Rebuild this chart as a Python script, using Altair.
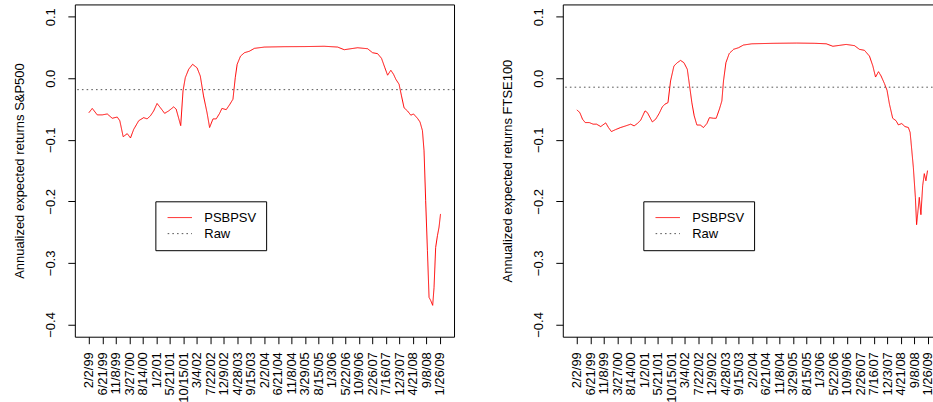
import altair as alt
import pandas as pd

# ---- data -------------------------------------------------------------
tick_labels = ["2/2/99", "6/21/99", "11/8/99", "3/27/00", "8/14/00", "1/2/01",
               "5/21/01", "10/15/01", "3/4/02", "7/22/02", "12/9/02", "4/28/03",
               "9/15/03", "2/2/04", "6/21/04", "11/8/04", "3/29/05", "8/15/05",
               "1/3/06", "5/22/06", "10/9/06", "2/26/07", "7/16/07", "12/3/07",
               "4/21/08", "9/8/08", "1/26/09"]
tick_pos = list(range(0, 2700, 100))

y_ticks = [-0.4, -0.3, -0.2, -0.1, 0.0, 0.1]

series_names = ["PSBPSV", "Raw"]
series_colors = ["#FF0000", "#555555"]
series_dashes = [[1, 0], [1.6, 3.1]]

# S&P500 panel (trading-day index, annualized expected return)
sp_idx = [0, 25, 62, 99, 136, 173, 210, 229, 254, 284,
          308, 332, 369, 406, 431, 456, 480, 505, 530, 561,
          591, 628, 646, 665, 680, 697, 714, 739, 768, 801,
          825, 849, 875, 894, 919, 943, 968, 985, 1017, 1042,
          1067, 1084, 1098, 1123, 1152, 1189, 1226, 1300, 1448, 1600,
          1743, 1842, 1891, 1940, 1990, 2064, 2101, 2138, 2167, 2192,
          2212, 2236, 2256, 2273, 2297, 2315, 2334, 2359, 2384, 2404,
          2433, 2452, 2470, 2482, 2494, 2507, 2519, 2531, 2546, 2556,
          2568, 2581, 2593, 2604]
sp_val = [-0.056, -0.049, -0.0595, -0.0595, -0.058, -0.065, -0.063, -0.069, -0.095, -0.090,
          -0.097, -0.083, -0.069, -0.064, -0.066, -0.061, -0.053, -0.041, -0.048, -0.057,
          -0.053, -0.0465, -0.050, -0.065, -0.077, -0.0206, 0.001, 0.0146, 0.0227, 0.017,
          0.0037, -0.0287, -0.056, -0.080, -0.066, -0.066, -0.057, -0.049, -0.051, -0.043,
          -0.034, 0.001, 0.0227, 0.036, 0.0415, 0.044, 0.0486, 0.0507, 0.0513, 0.0515,
          0.052, 0.0507, 0.0464, 0.048, 0.0496, 0.048, 0.0415, 0.040, 0.0324, 0.017,
          0.005, 0.013, 0.0065, -0.0016, -0.0097, -0.0287, -0.048, -0.053, -0.060, -0.058,
          -0.065, -0.071, -0.085, -0.118, -0.199, -0.280, -0.356, -0.361, -0.369, -0.340,
          -0.275, -0.256, -0.242, -0.2205]
sp_raw = -0.0185

# FTSE100 panel
ft_idx = [0, 22, 42, 62, 92, 121, 146, 177, 214, 234,
          256, 288, 325, 362, 399, 424, 448, 473, 505, 522,
          559, 584, 609, 633, 653, 675, 694, 719, 744, 768,
          793, 818, 835, 852, 869, 889, 914, 938, 963, 982,
          1012, 1032, 1056, 1074, 1086, 1104, 1128, 1160, 1197, 1234,
          1296, 1455, 1628, 1763, 1847, 1896, 1946, 1994, 2056, 2093,
          2130, 2167, 2192, 2212, 2234, 2253, 2278, 2297, 2315, 2339,
          2364, 2381, 2406, 2430, 2455, 2468, 2474, 2492, 2507, 2516,
          2524, 2536, 2548, 2561, 2573, 2585, 2597]
ft_val = [-0.0514, -0.0557, -0.0665, -0.072, -0.072, -0.0746, -0.0746, -0.0785, -0.0725, -0.080,
          -0.0866, -0.0833, -0.080, -0.0774, -0.0746, -0.0774, -0.0736, -0.068, -0.053, -0.0557,
          -0.0709, -0.0665, -0.0574, -0.0465, -0.042, -0.0396, -0.0044, 0.020, 0.0253, 0.029,
          0.0253, 0.0146, -0.0125, -0.040, -0.061, -0.076, -0.076, -0.080, -0.0736, -0.064,
          -0.065, -0.065, -0.050, -0.0368, -0.0044, 0.0253, 0.040, 0.047, 0.0496, 0.054,
          0.056, 0.0568, 0.0572, 0.0568, 0.056, 0.052, 0.0535, 0.055, 0.053, 0.047,
          0.0454, 0.036, 0.020, 0.002, 0.0107, 0.0037, -0.0087, -0.0195, -0.042, -0.065,
          -0.069, -0.0757, -0.0736, -0.0785, -0.080, -0.088, -0.1017, -0.145, -0.1936, -0.238,
          -0.2205, -0.1936, -0.2217, -0.1746, -0.155, -0.1665, -0.150]
ft_raw = -0.0145

FONT = "Liberation Sans"
label_expr = "[" + ",".join("'%s'" % s for s in tick_labels) + "][round(datum.value/100)]"


def panel(idx, vals, raw, ytitle):
    line_df = pd.DataFrame({"t": idx, "v": vals, "series": "PSBPSV"})
    raw_df = pd.DataFrame({"v": [raw], "series": ["Raw"]})

    legend = alt.Legend(
        title=None, orient="none", legendX=80.7, legendY=197.3,
        strokeColor="black", fillColor="white", padding=9, cornerRadius=0,
        symbolType="stroke", symbolSize=595, symbolStrokeWidth=1,
        symbolOffset=2.5, labelOffset=11.5, clipHeight=14.6, rowPadding=1.1,
        labelFont=FONT, labelFontSize=13, labelColor="black",
    )
    color = alt.Color("series:N", scale=alt.Scale(domain=series_names, range=series_colors),
                      legend=legend)
    dash = alt.StrokeDash("series:N", scale=alt.Scale(domain=series_names, range=series_dashes),
                          legend=legend)
    yenc = alt.Y("v:Q",
                 scale=alt.Scale(domain=[-0.42, 0.12], nice=False, zero=False),
                 axis=alt.Axis(values=y_ticks, format=".1f", title=ytitle))

    line = alt.Chart(line_df).mark_line(strokeWidth=1, clip=True).encode(
        x=alt.X("t:Q",
                scale=alt.Scale(domain=[-104, 2704], nice=False, zero=False),
                axis=alt.Axis(values=tick_pos, labelExpr=label_expr, title=None)),
        y=yenc,
        color=color,
        strokeDash=dash,
    )
    rule = alt.Chart(raw_df).mark_rule(strokeWidth=1).encode(
        y=yenc,
        color=color,
        strokeDash=dash,
    )
    return alt.layer(line, rule).properties(width=380, height=333)


left = panel(sp_idx, sp_val, sp_raw, "Annualized expected returns S&P500")
right = panel(ft_idx, ft_val, ft_raw, "Annualized expected returns FTSE100")

chart = (
    alt.hconcat(left, right, spacing=109, bounds="flush")
    .resolve_scale(color="independent", strokeDash="independent",
                   x="independent", y="independent")
    .resolve_legend(color="independent", strokeDash="independent")
    .properties(padding={"left": 12, "top": 3, "right": -10, "bottom": 0},
                background="white")
    .configure_view(stroke="black", strokeWidth=1, fill="white")
    .configure_axis(domain=False, grid=False, ticks=True, tickColor="black",
                    tickSize=7, tickWidth=1, labelColor="black", labelFont=FONT,
                    labelFontSize=13, titleFont=FONT, titleFontSize=13,
                    titleFontWeight="normal", titleColor="black",
                    labelOverlap=False, labelFlush=False)
    .configure_axisX(labelAngle=270, labelAlign="right", labelBaseline="middle",
                     labelPadding=8)
    .configure_axisY(labelAngle=270, labelAlign="center", labelBaseline="alphabetic",
                     labelPadding=13, titleAngle=270, titleAlign="center",
                     titleBaseline="alphabetic", titleX=-51.8, titleY=166.5)
)

chart.save("out.html", embed_options={"renderer": "svg", "actions": False})
